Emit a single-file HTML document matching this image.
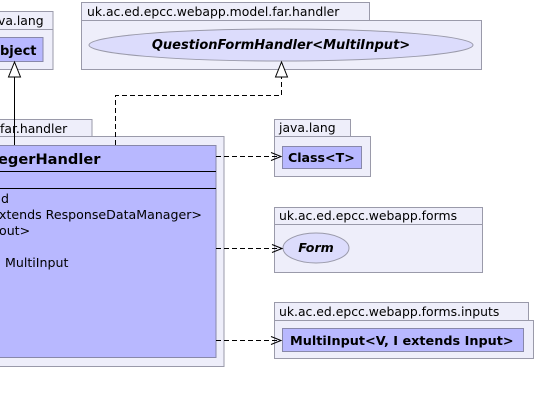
<!DOCTYPE html>
<html><head><meta charset="utf-8"><style>
html,body{margin:0;padding:0;background:#fff;width:535px;height:405px;overflow:hidden}
svg text{font-family:"DejaVu Sans","Liberation Sans",sans-serif}
</style></head><body>
<svg width="535" height="405" viewBox="0 0 535 405" xmlns="http://www.w3.org/2000/svg">
<g stroke="#9a9aaa" stroke-width="1" fill="#eeeefa">
  <rect x="-5" y="11.5" width="58" height="18"/>
  <rect x="-5" y="29.5" width="58" height="40"/>
  <rect x="81.5" y="2.5" width="288" height="18"/>
  <rect x="81.5" y="20.5" width="400" height="49"/>
  <rect x="-5" y="119.5" width="97" height="17"/>
  <rect x="-5" y="136.5" width="229" height="230"/>
  <rect x="274.5" y="119.5" width="76" height="17"/>
  <rect x="274.5" y="136.5" width="96" height="40"/>
  <rect x="274.5" y="207.5" width="208" height="17"/>
  <rect x="274.5" y="224.5" width="208" height="48"/>
  <rect x="274.5" y="302.5" width="254" height="18"/>
  <rect x="274.5" y="320.5" width="259" height="38"/>
</g>
<g font-size="12.4" fill="#000">
  <text x="-2" y="25">va.lang</text>
  <text x="87" y="16">uk.ac.ed.epcc.webapp.model.far.handler</text>
  <text x="0" y="133">far.handler</text>
  <text x="279" y="132">java.lang</text>
  <text x="279" y="220">uk.ac.ed.epcc.webapp.forms</text>
  <text x="279" y="316">uk.ac.ed.epcc.webapp.forms.inputs</text>
</g>
<rect x="-5" y="37.5" width="48" height="24" fill="#b8b8ff" stroke="#8888aa"/>
<text x="0" y="55" font-size="13" font-weight="bold">bject</text>
<ellipse cx="281" cy="45" rx="192" ry="16" fill="#dcdcfc" stroke="#9a9aaa"/>
<text x="281" y="49" font-size="13" font-weight="bold" font-style="italic" text-anchor="middle">QuestionFormHandler&lt;MultiInput&gt;</text>
<rect x="-5" y="145.5" width="221" height="212" fill="#b8b8ff" stroke="#8888aa"/>
<line x1="-5" y1="171.5" x2="216" y2="171.5" stroke="#000"/>
<line x1="-5" y1="188.5" x2="216" y2="188.5" stroke="#000"/>
<text x="-2" y="164" font-size="14.6" font-weight="bold">egerHandler</text>
<g font-size="12.6">
  <text x="1" y="203">d</text>
  <text x="-1" y="219">xtends ResponseDataManager&gt;</text>
  <text x="-1" y="235">out&gt;</text>
  <text x="5" y="267">MultiInput</text>
</g>
<rect x="282.5" y="146.5" width="79" height="22" fill="#b8b8ff" stroke="#8888aa"/>
<text x="288" y="162" font-size="12.6" font-weight="bold">Class&lt;T&gt;</text>
<ellipse cx="316" cy="248" rx="33" ry="15" fill="#dcdcfc" stroke="#9a9aaa"/>
<text x="316" y="252" font-size="12.6" font-weight="bold" font-style="italic" text-anchor="middle">Form</text>
<rect x="282.5" y="328.5" width="241" height="23" fill="#b8b8ff" stroke="#8888aa"/>
<text x="290" y="345" font-size="12.8" font-weight="bold">MultiInput&lt;V, I extends Input&gt;</text>
<line x1="14.5" y1="145" x2="14.5" y2="77" stroke="#000"/>
<polygon points="14.5,62 8.5,77 20.5,77" fill="#fff" stroke="#000"/>
<polyline points="115.5,145 115.5,95.5 281.5,95.5 281.5,77" fill="none" stroke="#000" stroke-dasharray="5,3"/>
<polygon points="281.5,62 275.5,77 287.5,77" fill="#fff" stroke="#000"/>
<g stroke="#000" fill="none">
  <line x1="216" y1="156.5" x2="281" y2="156.5" stroke-dasharray="5,3"/>
  <polyline points="271,152.5 281,156.5 271,160.5"/>
  <line x1="216" y1="248.5" x2="282" y2="248.5" stroke-dasharray="5,3"/>
  <polyline points="272,244.5 282,248.5 272,252.5"/>
  <line x1="216" y1="340.5" x2="281" y2="340.5" stroke-dasharray="5,3"/>
  <polyline points="271,336.5 281,340.5 271,344.5"/>
</g>
</svg>
</body></html>
